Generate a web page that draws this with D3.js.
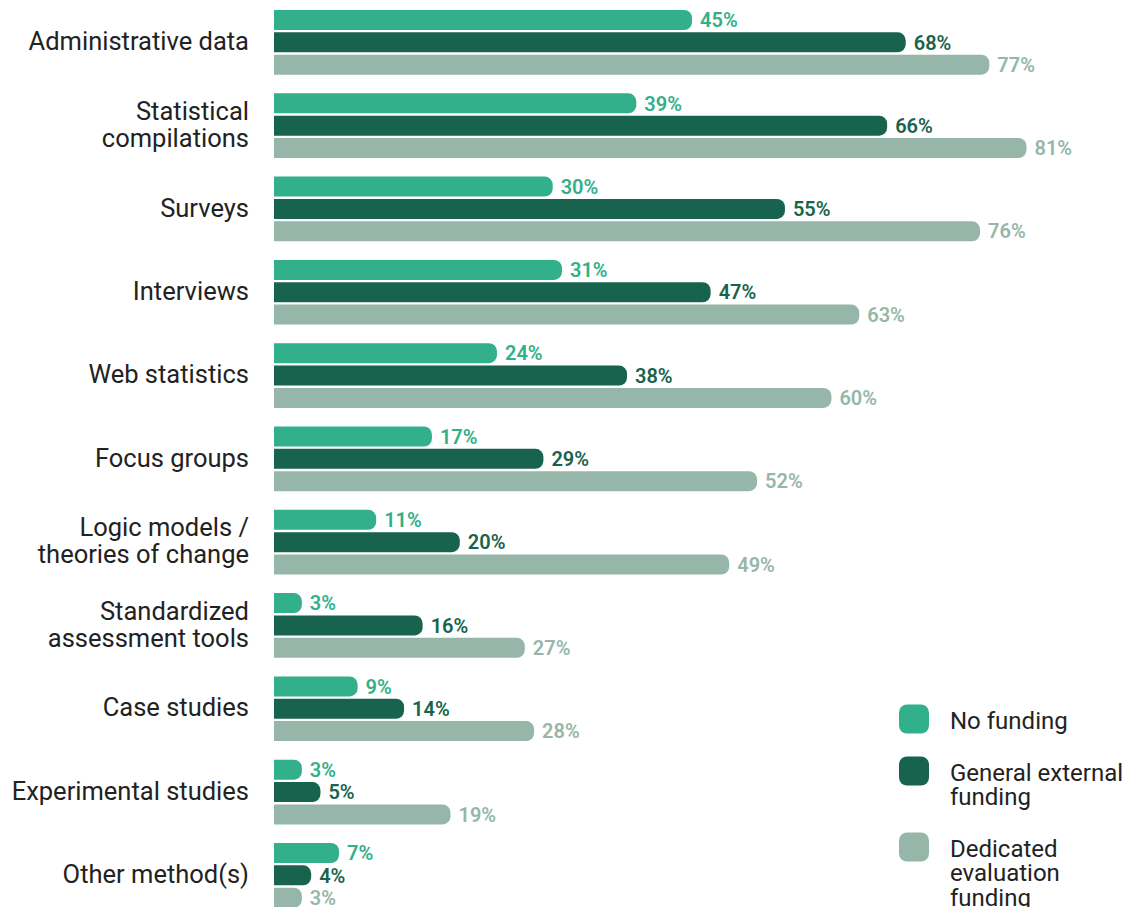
<!DOCTYPE html>
<html>
<head>
<meta charset="utf-8">
<script src="https://cdn.jsdelivr.net/npm/d3@7"></script>
<style>
  html, body { margin: 0; padding: 0; background: #ffffff; }
  svg { display: block; font-family: Roboto, "Noto Sans", sans-serif; }
</style>
</head>
<body>
<svg id="chart" width="1126" height="907"></svg>
<script>
// Evaluation methods used, by funding type (% of respondents)
const categories = [
  ["Administrative data"],
  ["Statistical", "compilations"],
  ["Surveys"],
  ["Interviews"],
  ["Web statistics"],
  ["Focus groups"],
  ["Logic models /", "theories of change"],
  ["Standardized", "assessment tools"],
  ["Case studies"],
  ["Experimental studies"],
  ["Other method(s)"]
];
const seriesNames = ["No funding", "General external funding", "Dedicated evaluation funding"];
const legendLines = [["No funding"], ["General external", "funding"], ["Dedicated", "evaluation", "funding"]];
const noFunding        = [45, 39, 30, 31, 24, 17, 11, 3, 9, 3, 7];
const generalExternal  = [68, 66, 55, 47, 38, 29, 20, 16, 14, 5, 4];
const dedicatedFunding = [77, 81, 76, 63, 60, 52, 49, 27, 28, 19, 3];
const seriesColors = ["#31b08b", "#17634d", "#96b6a9"];

const series = [noFunding, generalExternal, dedicatedFunding];

const svg = d3.select("#chart");

const x = d3.scaleLinear().domain([0, 100]).range([274, 274 + 929]);

const y0 = d3.scaleBand()
  .domain(d3.range(categories.length))
  .range([10, 10 + 83.3 * categories.length])
  .paddingInner(0).paddingOuter(0);

const y1 = d3.scaleBand()
  .domain(d3.range(series.length))
  .range([0, 64.7])
  .paddingInner(0.105);

const barH = y1.bandwidth();
const r = 8;

// bar with square left edge and rounded right end
function barPath(x0, x1, yTop, h) {
  const w = x1 - x0;
  const rr = Math.min(r, w / 2, h / 2);
  return `M${x0},${yTop}H${x1 - rr}` +
    `A${rr},${rr} 0 0 1 ${x1},${yTop + rr}` +
    `V${yTop + h - rr}` +
    `A${rr},${rr} 0 0 1 ${x1 - rr},${yTop + h}` +
    `H${x0}Z`;
}

const groups = svg.selectAll("g.group")
  .data(categories)
  .join("g")
  .attr("class", "group")
  .attr("transform", (d, i) => `translate(0,${y0(i)})`);

series.forEach((vals, s) => {
  groups.append("path")
    .attr("d", (d, i) => barPath(x(0), x(vals[i]), y1(s), barH))
    .attr("fill", seriesColors[s]);

  groups.append("text")
    .attr("x", (d, i) => x(vals[i]) + 8)
    .attr("y", y1(s) + barH / 2)
    .attr("dy", "0.36em")
    .attr("fill", seriesColors[s])
    .attr("font-size", 20)
    .attr("font-weight", 600)
    .text((d, i) => vals[i] + "%");
});

// category labels, right aligned and centred near the middle bar
const lineH = 27;
groups.each(function(lines) {
  const g = d3.select(this);
  const cy = y1(1) + barH / 2 - 1.5;
  const top = cy - (lines.length - 1) * lineH / 2;
  lines.forEach((ln, k) => {
    g.append("text")
      .attr("x", 249)
      .attr("y", top + k * lineH)
      .attr("dy", "0.36em")
      .attr("text-anchor", "end")
      .attr("font-size", 25.5)
      .attr("fill", "#222222")
      .text(ln);
  });
});

// legend
const legendY = [719, 771, 847];
const legend = svg.append("g").attr("class", "legend");
seriesNames.forEach((name, s) => {
  const lines = legendLines[s];
  legend.append("rect")
    .attr("x", 899).attr("y", legendY[s] - 14.5)
    .attr("width", 30).attr("height", 29)
    .attr("rx", 8)
    .attr("fill", seriesColors[s]);
  lines.forEach((ln, k) => {
    legend.append("text")
      .attr("x", 950)
      .attr("y", legendY[s] + 1 + k * 24.5)
      .attr("dy", "0.36em")
      .attr("font-size", 24)
      .attr("fill", "#222222")
      .text(ln);
  });
});
</script>
</body>
</html>
